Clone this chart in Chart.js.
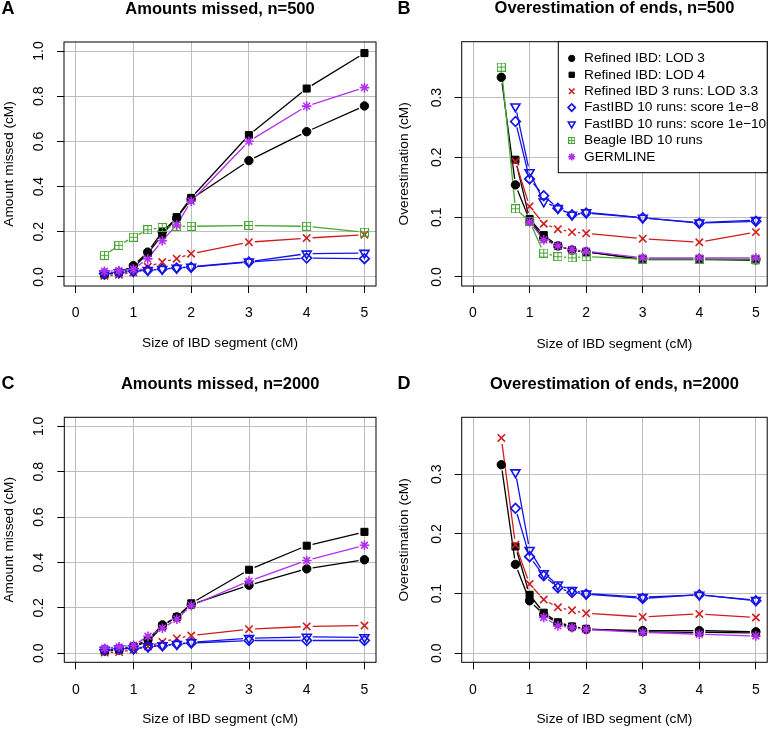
<!DOCTYPE html>
<html>
<head>
<meta charset="utf-8">
<script src="https://cdn.jsdelivr.net/npm/chart.js@4.4.0/dist/chart.umd.min.js"></script>
<style>
  body { margin: 0; background: #fff; width: 774px; height: 729px; position: relative; overflow: hidden; }
  .panel { position: absolute; }
</style>
</head>
<body>
<div class="panel" style="left:0px;top:0px"><canvas id="chartA" width="387" height="364"></canvas></div>
<div class="panel" style="left:385px;top:0px"><canvas id="chartB" width="389" height="364"></canvas></div>
<div class="panel" style="left:0px;top:364px"><canvas id="chartC" width="387" height="365"></canvas></div>
<div class="panel" style="left:385px;top:364px"><canvas id="chartD" width="389" height="365"></canvas></div>
<script>
// segment sizes (cM) shared by every panel
const sizes = [0.5, 0.75, 1, 1.25, 1.5, 1.75, 2, 3, 4, 5];

const seriesNames = [
    "Refined IBD: LOD 3",
    "Refined IBD: LOD 4",
    "Refined IBD 3 runs: LOD 3.3",
    "FastIBD 10 runs: score 1e\u22128",
    "FastIBD 10 runs: score 1e\u221210",
    "Beagle IBD 10 runs",
    "GERMLINE"
];

const xTicks = [0, 1, 2, 3, 4, 5];
const yTicksMissed = [0, 0.2, 0.4, 0.6, 0.8, 1.0];
const yTicksOver = [0, 0.1, 0.2, 0.3];

// A: amounts missed, n=500
const missed500Lod3 = [0.01, 0.02, 0.05, 0.11, 0.20, 0.26, 0.345, 0.515, 0.643, 0.757];
const missed500Lod4 = [0.01, 0.02, 0.04, 0.105, 0.185, 0.265, 0.35, 0.628, 0.834, 0.991];
const missed500Ref3 = [0.005, 0.01, 0.02, 0.045, 0.066, 0.081, 0.103, 0.154, 0.172, 0.187];
const missed500Fast8 = [0.015, 0.02, 0.025, 0.03, 0.035, 0.04, 0.043, 0.066, 0.084, 0.081];
const missed500Fast10 = [0.015, 0.02, 0.025, 0.03, 0.035, 0.04, 0.045, 0.068, 0.103, 0.106];
const missed500Beagle = [0.096, 0.14, 0.176, 0.209, 0.219, 0.224, 0.224, 0.228, 0.224, 0.198];
const missed500Germ = [0.025, 0.028, 0.035, 0.08, 0.16, 0.23, 0.335, 0.601, 0.756, 0.838];

// B: overestimation of ends, n=500
const over500Lod3 = [0.334, 0.154, 0.095, 0.065, 0.052, 0.045, 0.042, 0.030, 0.030, 0.029];
const over500Lod4 = [null, 0.196, 0.097, 0.070, 0.052, 0.045, 0.042, 0.029, 0.029, 0.028];
const over500Ref3 = [null, 0.193, 0.118, 0.089, 0.080, 0.075, 0.073, 0.064, 0.058, 0.075];
const over500Fast8 = [null, 0.260, 0.164, 0.136, 0.115, 0.104, 0.107, 0.099, 0.090, 0.093];
const over500Fast10 = [null, 0.285, 0.175, 0.126, 0.115, 0.104, 0.108, 0.099, 0.091, 0.095];
const over500Beagle = [0.351, 0.114, 0.093, 0.040, 0.034, 0.032, 0.034, 0.030, 0.030, 0.030];
const over500Germ = [null, null, 0.092, 0.062, 0.052, 0.046, 0.043, 0.032, 0.032, 0.032];

// C: amounts missed, n=2000
const missed2000Lod3 = [0.01, 0.015, 0.03, 0.06, 0.125, 0.16, 0.215, 0.300, 0.372, 0.412];
const missed2000Lod4 = [0.01, 0.015, 0.03, 0.05, 0.12, 0.16, 0.22, 0.368, 0.474, 0.535];
const missed2000Ref3 = [0.003, 0.005, 0.015, 0.03, 0.05, 0.065, 0.078, 0.106, 0.118, 0.122];
const missed2000Fast8 = [0.015, 0.02, 0.02, 0.028, 0.033, 0.04, 0.045, 0.056, 0.056, 0.056];
const missed2000Fast10 = [0.015, 0.02, 0.02, 0.03, 0.035, 0.04, 0.048, 0.066, 0.072, 0.07];
const missed2000Germ = [0.022, 0.028, 0.035, 0.075, 0.11, 0.15, 0.21, 0.318, 0.409, 0.476];

// D: overestimation of ends, n=2000
const over2000Lod3 = [0.316, 0.149, 0.088, 0.065, 0.050, 0.044, 0.040, 0.038, 0.038, 0.036];
const over2000Lod4 = [null, 0.179, 0.098, 0.068, 0.052, 0.045, 0.041, 0.036, 0.035, 0.034];
const over2000Ref3 = [0.361, 0.182, 0.116, 0.090, 0.077, 0.072, 0.067, 0.061, 0.066, 0.060];
const over2000Fast8 = [null, 0.243, 0.162, 0.130, 0.110, 0.102, 0.099, 0.092, 0.098, 0.088];
const over2000Fast10 = [null, 0.303, 0.173, 0.134, 0.115, 0.106, 0.100, 0.094, 0.098, 0.089];
const over2000Germ = [null, null, null, 0.060, 0.046, 0.043, 0.040, 0.035, 0.032, 0.029];

const RED = "#d01c1c";
const BLUE = "#1414e6";
const GREEN = "#46a832";
const PURPLE = "#b22ef0";
const FONT = "'Liberation Sans', Arial, Helvetica, sans-serif";
const GAP = 6; // R type="b": lines stop short of the points

Chart.defaults.font.family = FONT;
Chart.defaults.color = "#000";

// R's pch 12: square with a plus inside
function squarePlus(s) {
    const c = document.createElement("canvas");
    c.width = c.height = s;
    const g = c.getContext("2d");
    g.strokeStyle = GREEN;
    g.lineWidth = 1;
    g.strokeRect(0.5, 0.5, s - 1, s - 1);
    g.beginPath();
    g.moveTo(s / 2, 0); g.lineTo(s / 2, s);
    g.moveTo(0, s / 2); g.lineTo(s, s / 2);
    g.stroke();
    return c;
}

const markers = [
    { color: "#000", style: "circle", radius: 4.2, fill: true, bw: 1 },
    { color: "#000", style: "rect", radius: 5, fill: true, bw: 1 },
    { color: RED, style: "crossRot", radius: 5.2, bw: 1.6 },
    { color: BLUE, style: "rectRot", radius: 4.8, bw: 1.7 },
    { color: BLUE, style: "triangle", rotation: 180, radius: 5.2, bw: 1.6 },
    { color: GREEN, style: squarePlus(9), legendStyle: squarePlus(7), radius: 4.5, bw: 1 },
    { color: PURPLE, style: "star", radius: 4.8, bw: 1.6 }
];

function makeSets(list) {
    return list.map(([i, vals]) => {
        const m = markers[i];
        return {
            label: seriesNames[i],
            data: sizes.map((x, k) => ({ x: x, y: vals[k] })),
            borderColor: m.color,
            backgroundColor: m.fill ? m.color : "transparent",
            borderWidth: 1.3,
            pointStyle: m.style,
            pointRadius: m.radius,
            pointRotation: m.rotation || 0,
            pointBorderColor: m.color,
            pointBackgroundColor: m.fill ? m.color : "transparent",
            pointBorderWidth: m.bw,
            showLine: false,
            order: 10 - i
        };
    });
}

// connecting lines with a gap around each point, using the positions Chart.js computed
const gapLines = {
    id: "gapLines",
    beforeDatasetsDraw(chart) {
        const ctx = chart.ctx;
        const a = chart.chartArea;
        ctx.save();
        ctx.beginPath();
        ctx.rect(a.left, a.top, a.right - a.left, a.bottom - a.top);
        ctx.clip();
        chart.data.datasets.forEach((ds, i) => {
            const pts = chart.getDatasetMeta(i).data;
            ctx.strokeStyle = ds.borderColor;
            ctx.lineWidth = ds.borderWidth;
            ctx.beginPath();
            for (let k = 1; k < pts.length; k++) {
                const p0 = pts[k - 1], p1 = pts[k];
                if (p0.skip || p1.skip) continue;
                const dx = p1.x - p0.x, dy = p1.y - p0.y;
                const len = Math.hypot(dx, dy);
                if (len <= 2 * GAP) continue;
                const ux = dx / len, uy = dy / len;
                ctx.moveTo(p0.x + ux * GAP, p0.y + uy * GAP);
                ctx.lineTo(p1.x - ux * GAP, p1.y - uy * GAP);
            }
            ctx.stroke();
        });
        ctx.restore();
    }
};

// titles, panel letters, frame, rotated y tick labels and the legend
const decoPlugin = {
    id: "deco",
    afterDraw(chart, args, opts) {
        const ctx = chart.ctx;
        const a = chart.chartArea;
        ctx.save();
        ctx.strokeStyle = "#000";
        ctx.lineWidth = 1;
        ctx.strokeRect(a.left, a.top, a.right - a.left, a.bottom - a.top);

        ctx.fillStyle = "#000";
        ctx.textBaseline = "middle";
        ctx.textAlign = "center";
        ctx.font = "bold 16.5px " + FONT;
        ctx.fillText(opts.title, (a.left + a.right) / 2, a.top - 33);
        ctx.font = "bold 18px " + FONT;
        ctx.fillText(opts.letter, opts.letterX, a.top - 33);

        const ys = chart.scales.y;
        ctx.font = "14px " + FONT;
        ys.ticks.forEach(t => {
            const py = ys.getPixelForValue(t.value);
            ctx.save();
            ctx.translate(a.left - 25, py);
            ctx.rotate(-Math.PI / 2);
            ctx.fillText(t.value.toFixed(1), 0, 0);
            ctx.restore();
        });

        if (opts.legend) {
            const lx = opts.legend.left;
            const lb = opts.legend.bottom;
            ctx.fillStyle = "#fff";
            ctx.fillRect(lx, a.top, a.right - lx, lb - a.top);
            ctx.strokeStyle = "#000";
            ctx.strokeRect(lx, a.top, a.right - lx, lb - a.top);
            ctx.textAlign = "left";
            ctx.font = "13.7px " + FONT;
            seriesNames.forEach((name, i) => {
                const m = markers[i];
                const y = opts.legend.firstRow + i * opts.legend.step;
                ctx.strokeStyle = m.color;
                ctx.fillStyle = m.fill ? m.color : "transparent";
                ctx.lineWidth = m.bw;
                Chart.helpers.drawPoint(ctx, {
                    pointStyle: m.legendStyle || m.style,
                    rotation: m.rotation || 0,
                    radius: m.radius * 0.75,
                    borderWidth: m.bw
                }, lx + 13.4, y);
                ctx.fillStyle = "#000";
                ctx.fillText(name, lx + 25.7, y);
            });
        }
        ctx.restore();
    }
};

function makeChart(id, p) {
    const ctx = document.getElementById(id).getContext("2d");
    const yAxisWidth = p.box.l - p.canvas.left;
    const xAxisHeight = p.canvas.top + p.canvas.h - p.box.b;
    return new Chart(ctx, {
        type: "line",
        data: { datasets: makeSets(p.series) },
        options: {
            responsive: false,
            animation: false,
            events: [],
            layout: {
                padding: {
                    left: 0,
                    top: p.box.t - p.canvas.top,
                    right: p.canvas.w - (p.box.r - p.canvas.left),
                    bottom: 0
                }
            },
            plugins: {
                legend: { display: false },
                tooltip: { enabled: false },
                deco: { title: p.title, letter: p.letter, letterX: p.letterX, legend: p.legend }
            },
            scales: {
                x: {
                    type: "linear",
                    min: -0.2,
                    max: 5.2,
                    afterBuildTicks: s => { s.ticks = xTicks.map(v => ({ value: v })); },
                    afterFit: s => { s.height = xAxisHeight; },
                    grid: { color: "#bdbdbd", lineWidth: 1, tickColor: "#000", tickLength: 7, tickWidth: 1 },
                    border: { display: false },
                    ticks: { font: { size: 14 }, padding: 12, maxRotation: 0, callback: v => String(v) },
                    title: { display: true, text: "Size of IBD segment (cM)", font: { size: 13.7 }, padding: { top: 0, bottom: p.xTitlePad } }
                },
                y: {
                    type: "linear",
                    min: p.yMin,
                    max: p.yMax,
                    afterBuildTicks: s => { s.ticks = p.yTicks.map(v => ({ value: v })); },
                    afterFit: s => { s.width = yAxisWidth; },
                    grid: { color: "#bdbdbd", lineWidth: 1, tickColor: "#000", tickLength: 7, tickWidth: 1 },
                    border: { display: false },
                    ticks: { display: false },
                    title: { display: true, text: p.yTitle, font: { size: 13.7 }, padding: { top: p.yTitlePad, bottom: 0 } }
                }
            }
        },
        plugins: [gapLines, decoPlugin]
    });
}

makeChart("chartA", {
    canvas: { left: 0, top: 0, w: 387, h: 364 },
    box: { l: 64, t: 42, r: 376, b: 286 },
    title: "Amounts missed, n=500", letter: "A", letterX: 8,
    yTitle: "Amount missed (cM)", yTitlePad: 1, xTitlePad: 12.5,
    yMin: -0.04, yMax: 1.04, yTicks: yTicksMissed,
    series: [[0, missed500Lod3], [1, missed500Lod4], [2, missed500Ref3], [3, missed500Fast8],
             [4, missed500Fast10], [5, missed500Beagle], [6, missed500Germ]]
});

makeChart("chartB", {
    canvas: { left: 385, top: 0, w: 389, h: 364 },
    box: { l: 461.7, t: 41.7, r: 771.7, b: 286 },
    title: "Overestimation of ends, n=500", letter: "B", letterX: 19,
    yTitle: "Overestimation (cM)", yTitlePad: 11, xTitlePad: 12,
    yMin: -0.0151, yMax: 0.3935, yTicks: yTicksOver,
    series: [[0, over500Lod3], [1, over500Lod4], [2, over500Ref3], [3, over500Fast8],
             [4, over500Fast10], [5, over500Beagle], [6, over500Germ]],
    legend: { left: 173.3, bottom: 172.7, firstRow: 58.4, step: 16.4 }
});

makeChart("chartC", {
    canvas: { left: 0, top: 364, w: 387, h: 365 },
    box: { l: 64.3, t: 417.3, r: 376, b: 662.3 },
    title: "Amounts missed, n=2000", letter: "C", letterX: 8,
    yTitle: "Amount missed (cM)", yTitlePad: 0.6, xTitlePad: 1.2,
    yMin: -0.04, yMax: 1.04, yTicks: yTicksMissed,
    series: [[0, missed2000Lod3], [1, missed2000Lod4], [2, missed2000Ref3], [3, missed2000Fast8],
             [4, missed2000Fast10], [6, missed2000Germ]]
});

makeChart("chartD", {
    canvas: { left: 385, top: 364, w: 389, h: 365 },
    box: { l: 461.7, t: 417.3, r: 772, b: 662.3 },
    title: "Overestimation of ends, n=2000", letter: "D", letterX: 19,
    yTitle: "Overestimation (cM)", yTitlePad: 11.3, xTitlePad: 2,
    yMin: -0.0151, yMax: 0.3955, yTicks: yTicksOver,
    series: [[0, over2000Lod3], [1, over2000Lod4], [2, over2000Ref3], [3, over2000Fast8],
             [4, over2000Fast10], [6, over2000Germ]]
});
</script>
</body>
</html>
